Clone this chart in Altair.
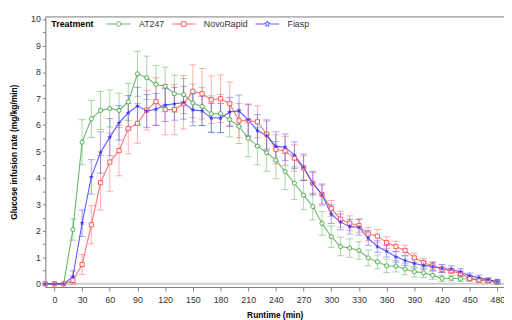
import altair as alt
import pandas as pd

times = [-10, 0, 10, 20, 30, 40, 50, 60, 70, 80, 90, 100, 110, 120, 130, 140, 150, 160, 170, 180,
         190, 200, 210, 220, 230, 240, 250, 260, 270, 280, 290, 300, 310, 320, 330, 340, 350, 360,
         370, 380, 390, 400, 410, 420, 430, 440, 450, 460, 470, 480]

at247 = [0, 0, 0, 2.05, 5.35, 6.23, 6.55, 6.62, 6.55, 6.87, 7.93, 7.78, 7.53, 7.46, 7.18, 7.15, 6.83,
         6.70, 6.42, 6.43, 6.20, 5.95, 5.50, 5.20, 4.95, 4.67, 4.24, 3.80, 3.35, 2.92, 2.28, 1.78,
         1.41, 1.35, 1.26, 0.98, 0.83, 0.68, 0.67, 0.56, 0.46, 0.42, 0.32, 0.21, 0.21, 0.19, 0.18,
         0.15, 0.13, 0.04]
at247_sd = [0, 0, 0, 0.40, 0.85, 0.70, 0.72, 0.70, 0.65, 0.70, 0.85, 0.82, 0.72, 0.72, 0.70, 0.72,
            0.72, 0.72, 0.68, 0.72, 0.65, 0.65, 0.70, 0.70, 0.70, 0.70, 0.68, 0.62, 0.55, 0.50, 0.45,
            0.40, 0.35, 0.35, 0.33, 0.30, 0.26, 0.25, 0.22, 0.22, 0.20, 0.18, 0.15, 0.12, 0.10, 0.10,
            0.08, 0.08, 0.06, 0.05]

novorapid = [0, 0, 0, 0.13, 0.73, 2.23, 3.82, 4.60, 5.03, 5.86, 6.06, 6.56, 6.88, 6.58, 6.58, 6.80,
             7.27, 7.18, 6.95, 6.99, 6.80, 6.16, 6.16, 6.12, 5.65, 5.08, 5.02, 4.75, 4.38, 3.80, 3.37,
             2.85, 2.44, 2.29, 2.20, 1.88, 1.80, 1.56, 1.41, 1.26, 0.98, 0.80, 0.68, 0.55, 0.49, 0.39,
             0.21, 0.15, 0.12, 0.09]
novorapid_sd = [0, 0, 0, 0.15, 0.38, 0.72, 1.03, 1.10, 0.95, 0.95, 0.75, 0.75, 0.90, 0.95, 0.95, 0.95,
                1.00, 0.95, 0.90, 0.90, 0.82, 0.65, 0.60, 0.60, 0.55, 0.55, 0.55, 0.50, 0.45, 0.40,
                0.35, 0.30, 0.30, 0.28, 0.25, 0.25, 0.25, 0.22, 0.20, 0.20, 0.18, 0.15, 0.15, 0.12,
                0.10, 0.10, 0.10, 0.08, 0.08, 0.06]

fiasp = [0, 0, 0, 0.27, 2.29, 4.04, 4.96, 5.54, 6.08, 6.46, 6.72, 6.53, 6.59, 6.75, 6.80, 6.84, 6.57,
         6.53, 6.26, 6.26, 6.49, 6.53, 6.19, 5.79, 5.60, 5.19, 5.16, 4.86, 4.40, 3.80, 3.37, 2.63,
         2.34, 2.16, 2.14, 1.73, 1.41, 1.23, 1.02, 0.88, 0.77, 0.70, 0.66, 0.58, 0.55, 0.45, 0.31,
         0.23, 0.15, 0.09]
fiasp_sd = [0, 0, 0, 0.22, 0.50, 0.65, 0.78, 0.70, 0.65, 0.65, 0.70, 0.62, 0.60, 0.62, 0.62, 0.62,
            0.60, 0.55, 0.55, 0.55, 0.55, 0.60, 0.60, 0.60, 0.55, 0.55, 0.50, 0.50, 0.50, 0.45, 0.40,
            0.35, 0.30, 0.28, 0.30, 0.28, 0.22, 0.22, 0.20, 0.18, 0.18, 0.15, 0.15, 0.15, 0.13, 0.12,
            0.10, 0.10, 0.08, 0.06]

treatments = ["AT247", "NovoRapid", "Fiasp"]
colors = ["#45a545", "#ff4d4d", "#3535ff"]
x_ticks = [0, 30, 60, 90, 120, 150, 180, 210, 240, 270, 300, 330, 360, 390, 420, 450, 480]
y_ticks = [0, 0.5, 1, 1.5, 2, 2.5, 3, 3.5, 4, 4.5, 5, 5.5, 6, 6.5, 7, 7.5, 8, 8.5, 9, 9.5, 10]

rows = []
for name, means, sds in zip(treatments, [at247, novorapid, fiasp], [at247_sd, novorapid_sd, fiasp_sd]):
    for t, m, s in zip(times, means, sds):
        rows.append({"Runtime": t, "GIR": m, "lo": m - s, "hi": m + s, "sd": s, "Treatment": name})
df = pd.DataFrame(rows)
err_df = df[df["sd"] > 0]
base_df = pd.DataFrame({"y": [0]})

font = "Liberation Sans"
xscale = alt.Scale(domain=[-9.8, 487.2], nice=False, zero=False)
yscale = alt.Scale(domain=[-0.12, 10.1], nice=False, zero=False)
cscale = alt.Scale(domain=treatments, range=colors)

star = ("M0,-1L0.235,-0.324L0.951,-0.309L0.380,0.124L0.588,0.809L0,0.4L-0.588,0.809"
        "L-0.380,0.124L-0.951,-0.309L-0.235,-0.324Z")
marker_shapes = ["circle", "square", star]

leg_circle = "M-1,0L-0.2,0M0.2,0L1,0M-0.2,0A0.2,0.2,0,1,0,0.2,0A0.2,0.2,0,1,0,-0.2,0Z"
leg_square = "M-1,0L-0.2,0M0.2,0L1,0M-0.2,-0.2L0.2,-0.2L0.2,0.2L-0.2,0.2Z"
leg_star = ("M-1,0L-0.24,0M0.24,0L1,0M0,-0.25L0.059,-0.081L0.238,-0.077L0.095,0.031L0.147,0.202"
            "L0,0.1L-0.147,0.202L-0.095,0.031L-0.238,-0.077L-0.059,-0.081Z")
leg_shape_scale = alt.Scale(domain=treatments, range=[leg_circle, leg_square, leg_star])

legend = alt.Legend(
    title="Treatment", orient="none", legendX=6, legendY=-5, direction="horizontal",
    titleOrient="left", titleAnchor="middle", titleBaseline="top",
    titleFontSize=9, titleFont=font, titleColor="#000000",
    titleFontWeight="bold", titlePadding=12,
    labelFontSize=9, labelFont=font, labelColor="#333333",
    symbolSize=576, symbolStrokeWidth=1, symbolOpacity=0.85, labelOffset=8, columnPadding=5,
)

yaxis = alt.Axis(values=y_ticks, labelExpr="datum.value % 1 === 0 ? format(datum.value, 'd') : ''",
                 title="Glucose infusion rate (mg/kg/min)", titleFontSize=8.5, titleFont=font,
                 titleFontWeight="bold", titleColor="#000000", titleX=-32, titleBaseline="middle",
                 labelFontSize=9, labelFont=font, labelColor="#333333", tickSize=3, labelPadding=2,
                 domainColor="#808080", tickColor="#808080", grid=False)
xaxis = alt.Axis(values=x_ticks, title="Runtime (min)", titleFontSize=8.5, titleFont=font,
                 titleFontWeight="bold", titleColor="#000000", titleY=24,
                 labelFontSize=9, labelFont=font, labelColor="#333333", tickSize=4, labelPadding=5,
                 domainColor="#808080", tickColor="#808080", grid=False, labelFlush=False)
top_axis = alt.Axis(orient="top", labels=False, ticks=False, tickSize=0, title=None,
                    domainColor="#a0a0a0", domainWidth=1.5, grid=False)

baseline = alt.Chart(base_df).mark_rule(color="#cccccc", strokeWidth=2).encode(
    y=alt.Y("y:Q", scale=yscale, axis=yaxis)
)

err_layers, line_layers, point_layers = [], [], []
for i, (name, col, shp) in enumerate(zip(treatments, colors, marker_shapes)):
    edf = err_df[err_df["Treatment"] == name]
    sdf = df[df["Treatment"] == name]
    err_layers.append(alt.Chart(edf).mark_rule(strokeWidth=1, opacity=0.45, color=col).encode(
        x=alt.X("Runtime:Q", scale=xscale, axis=top_axis if i == 0 else None),
        y=alt.Y("lo:Q", scale=yscale, axis=yaxis),
        y2="hi:Q",
    ))
    for fld in ["lo", "hi"]:
        err_layers.append(alt.Chart(edf).mark_tick(orient="horizontal", size=7, thickness=1,
                                                    opacity=0.45, color=col).encode(
            x=alt.X("Runtime:Q", scale=xscale, axis=None),
            y=alt.Y(fld + ":Q", scale=yscale, axis=yaxis),
        ))
    line_layers.append(alt.Chart(sdf).mark_line(strokeWidth=1.1, opacity=0.8, color=col, clip=False).encode(
        x=alt.X("Runtime:Q", scale=xscale, axis=xaxis if i == 0 else None),
        y=alt.Y("GIR:Q", scale=yscale, axis=yaxis),
    ))
    is_star = name == "Fiasp"
    point_layers.append(alt.Chart(sdf).mark_point(
        shape=shp, size=30 if is_star else 18, strokeWidth=1, filled=is_star, opacity=0.9,
        color=col, fill=col if is_star else "white", clip=False
    ).encode(
        x=alt.X("Runtime:Q", scale=xscale, axis=None),
        y=alt.Y("GIR:Q", scale=yscale, axis=yaxis),
    ))

# legend-only layer (no rows drawn): carries the combined line + marker legend
legend_layer = alt.Chart(df).transform_filter("datum.GIR < -100").mark_point(filled=False).encode(
    x=alt.X("Runtime:Q", scale=xscale, axis=None),
    y=alt.Y("GIR:Q", scale=yscale, axis=yaxis),
    color=alt.Color("Treatment:N", scale=cscale, legend=legend),
    shape=alt.Shape("Treatment:N", scale=leg_shape_scale, legend=legend),
)

chart = alt.layer(baseline, *err_layers, *line_layers, *point_layers, legend_layer).resolve_axis(
    x="independent"
).properties(
    width=466, height=275,
    autosize=alt.AutoSizeParams(type="none"),
    padding={"left": 38, "top": 6, "right": 0, "bottom": 31},
).configure_view(stroke=None).configure(font=font)

chart.save("out.html", embed_options={"renderer": "svg", "actions": False})
